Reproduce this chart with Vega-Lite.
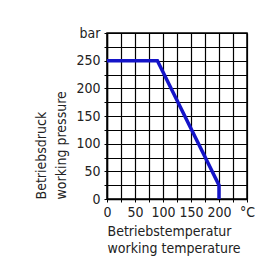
{
  "$schema": "https://vega.github.io/schema/vega-lite/v6.json",
  "width": 140,
  "height": 166,
  "autosize": {"type": "none"},
  "padding": {"left": 107, "top": 33, "right": 10, "bottom": 64},
  "background": "white",
  "config": {
    "font": "DejaVu Sans Condensed",
    "view": {"stroke": "black", "strokeWidth": 1.5}
  },
  "data": {"values": [
    {"t": 0, "p": 250},
    {"t": 90, "p": 250},
    {"t": 200, "p": 25},
    {"t": 200, "p": 0}
  ]},
  "mark": {"type": "line", "color": "#1414c8", "strokeWidth": 3.5, "interpolate": "linear"},
  "encoding": {
    "x": {
      "field": "t", "type": "quantitative",
      "scale": {"domain": [0, 250], "nice": false},
      "axis": {
        "values": [0, 25, 50, 75, 100, 125, 150, 175, 200, 225, 250],
        "labelExpr": "datum.value == 250 ? '°C' : (datum.value % 50 == 0 ? datum.label : '')",
        "labelOverlap": false, "labelBound": false, "labelFlush": false,
        "grid": true, "gridColor": "black", "gridOpacity": 1, "gridWidth": 1.2,
        "domainColor": "black", "domainWidth": 1.5, "tickColor": "black", "tickSize": 3,
        "labelFontSize": 14, "labelColor": "#222", "labelPadding": 3,
        "title": ["Betriebstemperatur", "working temperature"],
        "titleFontSize": 14, "titleFontWeight": "normal", "titleColor": "#222",
        "titleAnchor": "start", "titleAlign": "left", "titlePadding": 5, "titleLineHeight": 17
      }
    },
    "y": {
      "field": "p", "type": "quantitative",
      "scale": {"domain": [0, 300], "nice": false},
      "axis": {
        "values": [0, 25, 50, 75, 100, 125, 150, 175, 200, 225, 250, 275, 300],
        "labelExpr": "datum.value == 300 ? 'bar' : (datum.value % 50 == 0 ? datum.label : '')",
        "labelOverlap": false, "labelBound": false, "labelFlush": false,
        "grid": true, "gridColor": "black", "gridOpacity": 1, "gridWidth": 1.2,
        "domainColor": "black", "domainWidth": 1.5, "tickColor": "black", "tickSize": 3,
        "labelFontSize": 14, "labelColor": "#222", "labelPadding": 4,
        "title": ["Betriebsdruck", "working pressure"],
        "titleFontSize": 14, "titleFontWeight": "normal", "titleColor": "#222",
        "titleAnchor": "start", "titleAlign": "left", "titlePadding": 7, "titleLineHeight": 20
      }
    }
  }
}
